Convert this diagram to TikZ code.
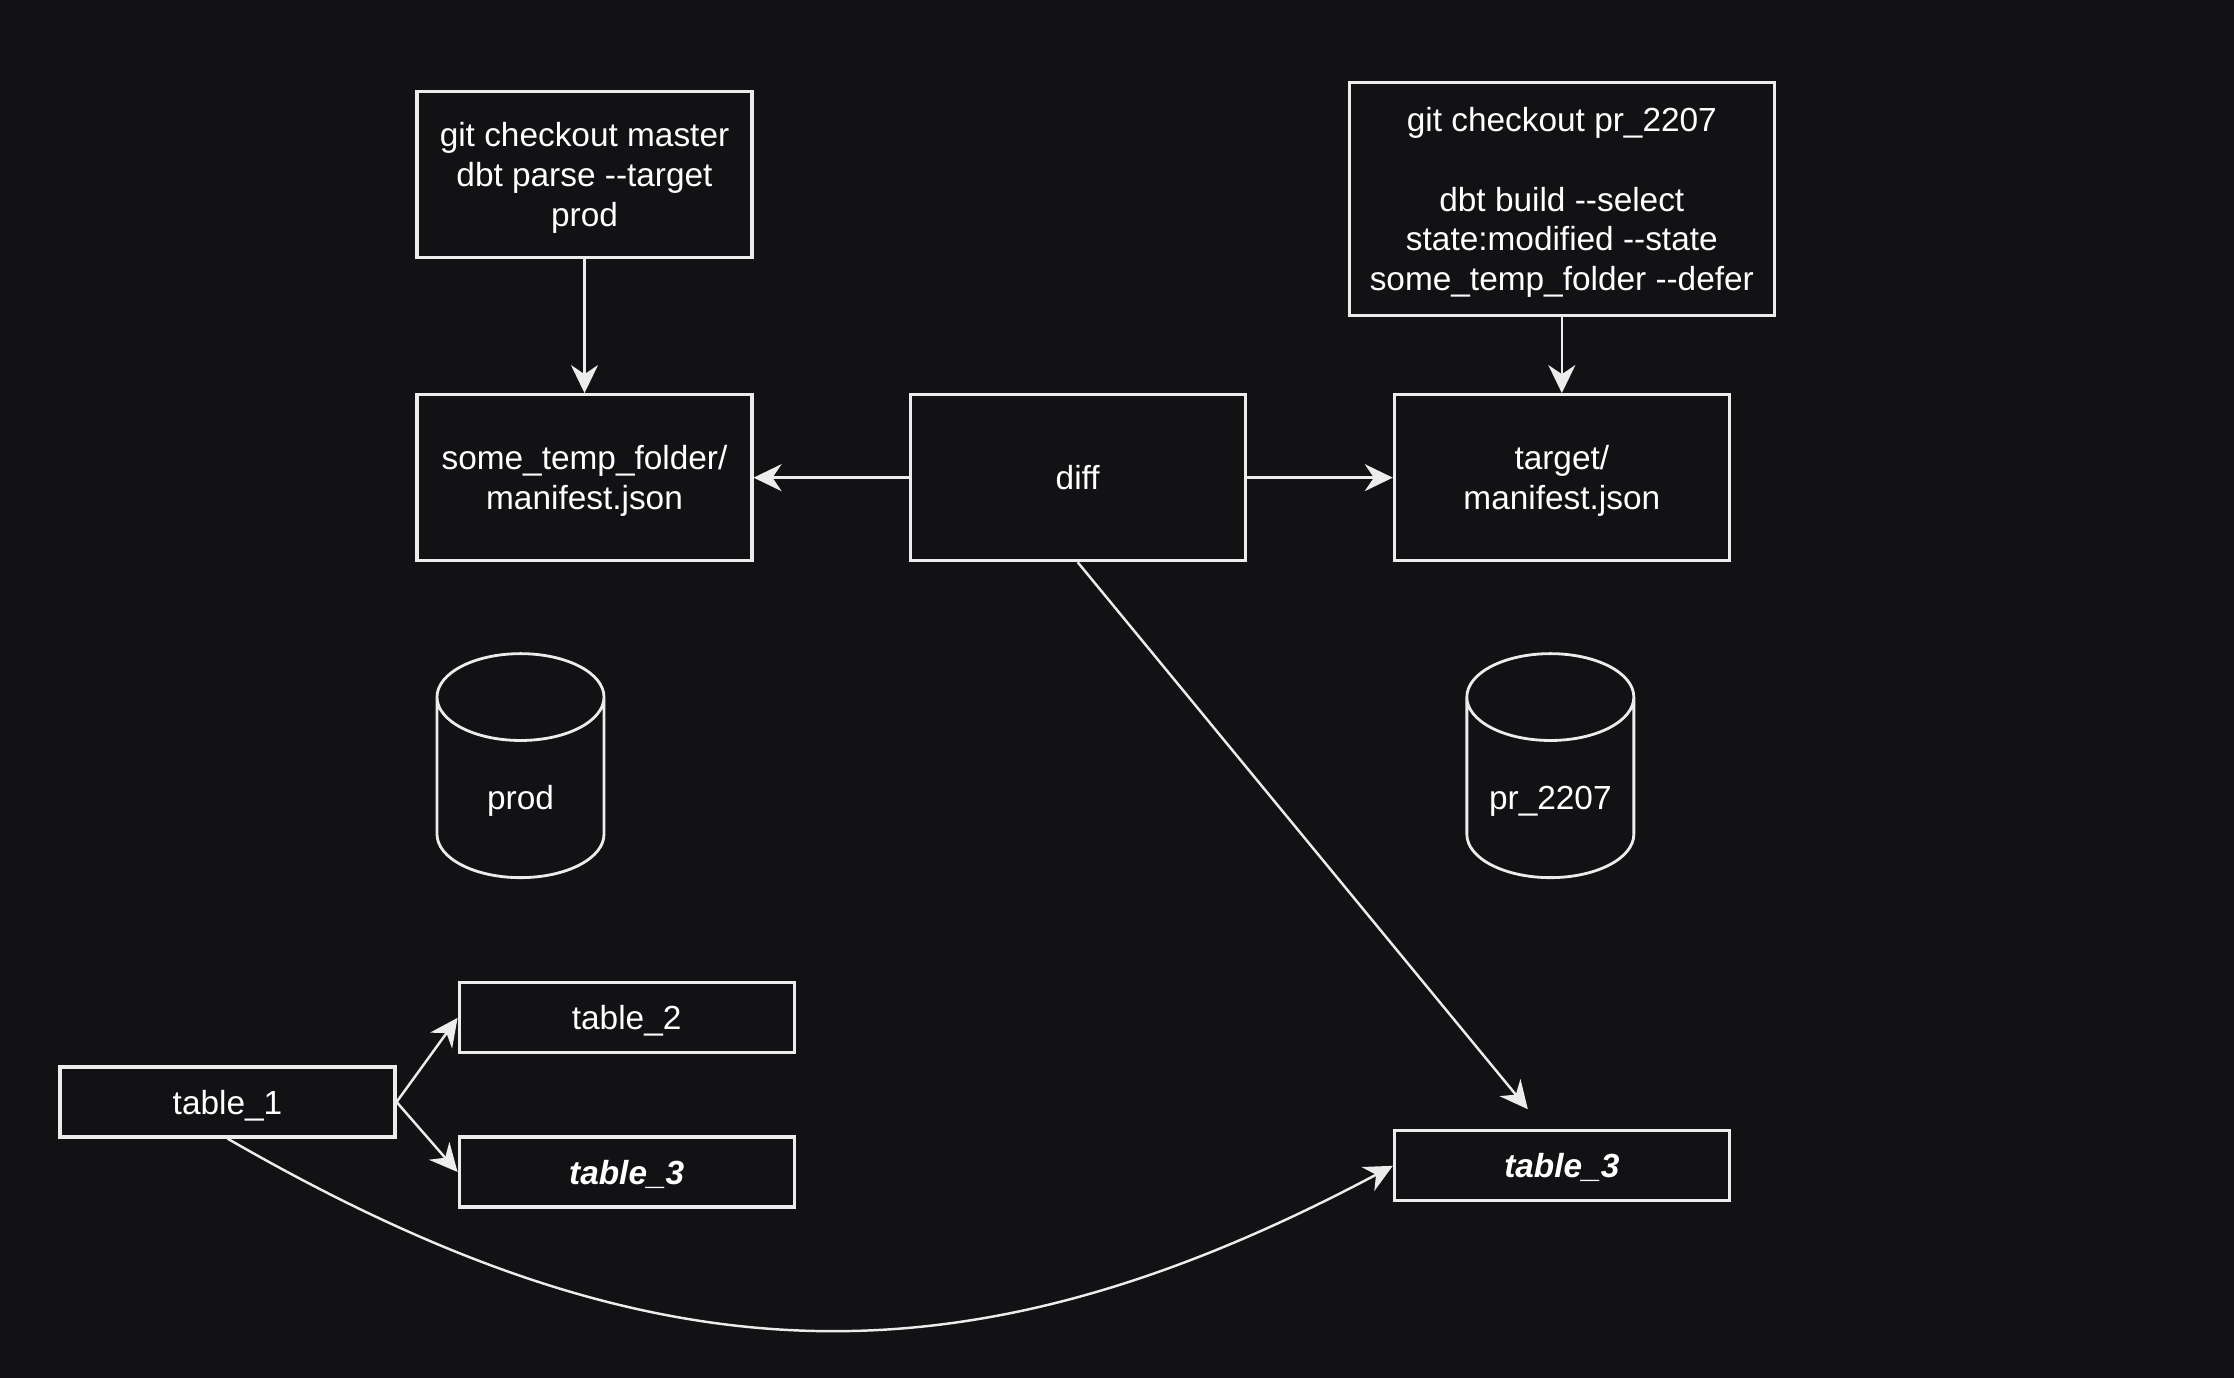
\documentclass[tikz,border=0pt]{standalone}
\usepackage{fontspec}
\setmainfont{Liberation Sans}[Ligatures=TeXOff]
\usetikzlibrary{arrows.meta,positioning,shapes,calc}
\definecolor{bgdark}{RGB}{18,17,20}
\definecolor{lineclr}{RGB}{236,236,236}

\begin{document}
\begin{tikzpicture}[
    node distance=12mm,
    box/.style={draw=lineclr, line width=0.9pt, align=center, text=white, text depth=0pt, minimum width=3.35cm, minimum height=1.66cm, font=\fontsize{9.5}{11.3}\selectfont},
    tbl/.style={box, minimum height=0.7cm},
    store/.style={draw=lineclr, line width=0.8pt, cylinder, shape border rotate=90, aspect=0.566, text width=1.3cm, text height=0.28cm, text depth=0.08cm, minimum height=2.24cm, minimum width=1.67cm, align=center, text=white, font=\fontsize{9.5}{11.3}\selectfont},
    >={Stealth[length=2.8mm, width=2.7mm]},
  ]
    \fill[bgdark] (0,0) rectangle (22.34,-13.78);
    \useasboundingbox (0,0) rectangle (22.34,-13.78);
    % Checkouts
    \node[box] (master) at (5.845,-1.745) {git checkout master\\dbt parse --target\\prod};
    % Manifests
    \node[box, below=1.34cm of master] (tmpman) {some\_temp\_folder/\\manifest.json};
    \node[box, right=1.55cm of tmpman] (diff) {diff};
    \node[box, right=1.46cm of diff] (tgtman) {target/\\manifest.json};
    \node[box, minimum width=4.25cm, minimum height=2.33cm, above=0.76cm of tgtman] (pr) {git checkout pr\_2207\\[11.3pt]dbt build --select\\state:modified --state\\some\_temp\_folder --defer};
    % Schemas
    \node[store, below=0.90cm of tmpman, xshift=-0.64cm] (prod) {prod};
    \node[store, below=0.90cm of tgtman, xshift=-0.115cm] (prdb) {pr\_2207};
    % Tables
    \node[tbl] (t1) at (2.275,-11.02) {table\_1};
    \node[tbl, above right=0.11cm and 0.61cm of t1] (t2) {table\_2};
    \node[tbl, below=0.81cm of t2] (t3) {\bfseries\itshape table\_3};
    \node[tbl, below=5.67cm of tgtman] (t3pr) {\bfseries\itshape table\_3};
    \coordinate (t3tip) at ($(t3pr.north)+(-0.34,0.2)$);

    % Edges
    \begin{scope}[draw=lineclr, line width=0.7pt]
    \draw[->] (master) -- (tmpman);
    \draw[->] (pr) -- (tgtman);
    \draw[->] (diff) -- (tmpman);
    \draw[->] (diff) -- (tgtman);
    \draw[->] (diff.south) -- (t3tip);
    \draw[->] (t1.east) -- (t2.west);
    \draw[->] (t1.east) -- (t3.west);
    \draw[->] (t1.south) to[out=-30, in=208, looseness=1.07] (t3pr.west);
    \end{scope}
  \end{tikzpicture}
\end{document}
